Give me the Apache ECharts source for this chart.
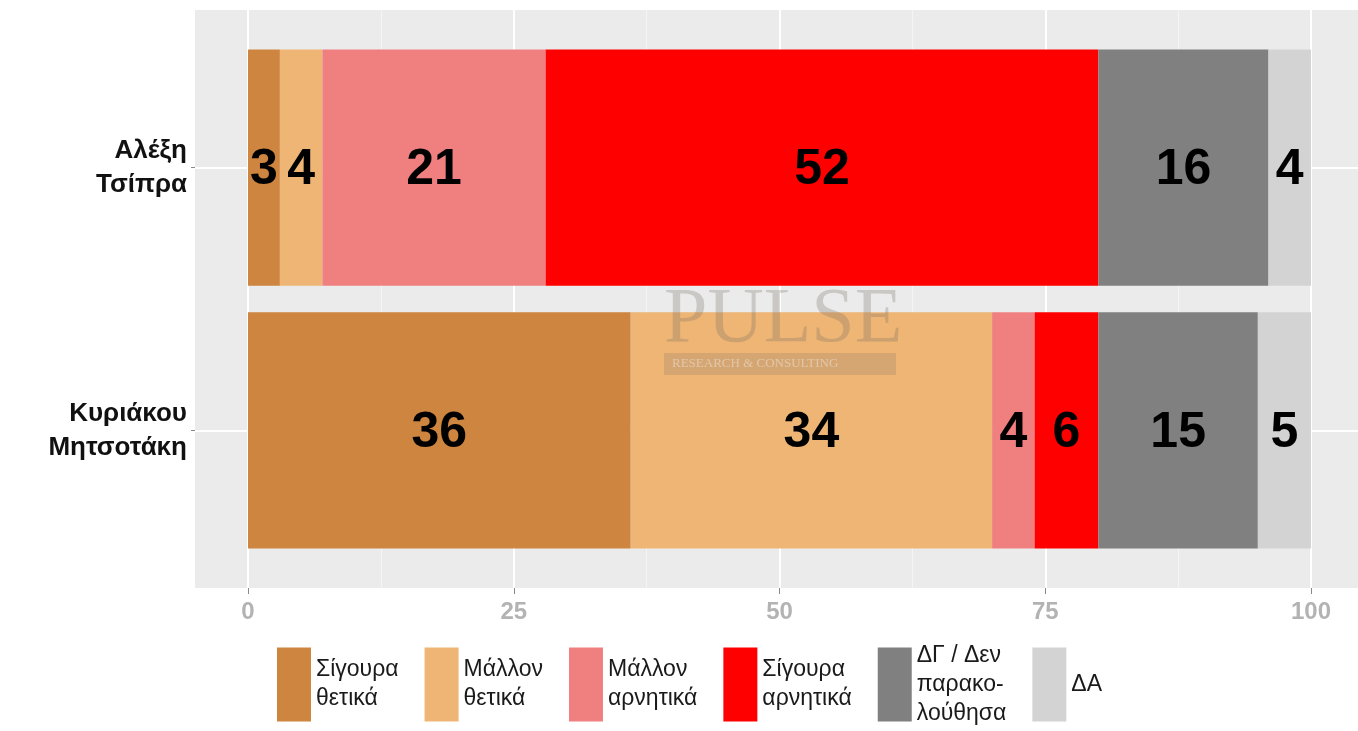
<!DOCTYPE html>
<html>
<head>
<meta charset="utf-8">
<script src="https://cdn.jsdelivr.net/npm/echarts@6/dist/echarts.min.js"></script>
<style>
  html, body { margin: 0; padding: 0; background: #ffffff; }
  #chart { width: 1358px; height: 731px; }
</style>
</head>
<body>
<div id="chart"></div>
<script>
  // πολιτικοί (άξονας y)
  var people = ['Αλέξη\nΤσίπρα', 'Κυριάκου\nΜητσοτάκη'];
  // κατηγορίες απάντησης
  var answers = ['Σίγουρα\nθετικά', 'Μάλλον\nθετικά', 'Μάλλον\nαρνητικά', 'Σίγουρα\nαρνητικά', 'ΔΓ / Δεν\nπαρακο-\nλούθησα', 'ΔΑ'];
  var colors = ['#CD853F', '#EEB574', '#F08080', '#FF0000', '#808080', '#D3D3D3'];
  // τιμές ανά κατηγορία: [Τσίπρα, Μητσοτάκη]
  var sigouraThetika = [3, 36];
  var mallonThetika = [4, 34];
  var mallonArnitika = [21, 4];
  var sigouraArnitika = [52, 6];
  var dgDen = [16, 15];
  var da = [4, 5];

  var values = [sigouraThetika, mallonThetika, mallonArnitika, sigouraArnitika, dgDen, da];

  var chart = echarts.init(document.getElementById('chart'));

  // σωρευτικά άκρα για κάθε τμήμα
  var cum = people.map(function () { return 0; });
  var series = values.map(function (vals, si) {
    var data = vals.map(function (v, pi) {
      var start = cum[pi];
      cum[pi] += v;
      return [start, cum[pi], pi + 1, v];
    });
    return {
      name: answers[si],
      type: 'custom',
      xAxisIndex: 1,
      yAxisIndex: 1,
      itemStyle: { color: colors[si] },
      encode: { x: [0, 1], y: 2 },
      data: data,
      renderItem: function (params, api) {
        var p0 = api.coord([api.value(0), api.value(2)]);
        var p1 = api.coord([api.value(1), api.value(2)]);
        var h = api.size([0, 0.9])[1];
        return {
          type: 'group',
          children: [{
            type: 'rect',
            shape: { x: p0[0], y: p0[1] - h / 2, width: p1[0] - p0[0], height: h },
            style: { fill: colors[si] }
          }, {
            type: 'text',
            x: (p0[0] + p1[0]) / 2,
            y: p0[1] + 3,
            style: {
              text: String(api.value(3)),
              fill: '#000000',
              font: 'bold 50px "Liberation Sans", Arial, sans-serif',
              align: 'center',
              verticalAlign: 'middle'
            }
          }]
        };
      }
    };
  });

  var option = {
    backgroundColor: '#ffffff',
    animation: false,
    grid: [
      { left: 195, right: 0, top: 10, bottom: 143, show: true, backgroundColor: '#EBEBEB', borderWidth: 0 },
      { left: 248, right: 47, top: 10, bottom: 143 }
    ],
    xAxis: [
      { gridIndex: 0, type: 'value', min: -5, max: 105, show: false },
      {
        gridIndex: 1, type: 'value', min: 0, max: 100, interval: 25,
        axisLine: { show: false, onZero: false },
        axisTick: { show: true, length: 6, lineStyle: { color: '#8a8a8a', width: 1 } },
        axisLabel: {
          margin: 12, color: '#B3B3B3', fontSize: 24, fontWeight: 'bold',
          fontFamily: '"Liberation Sans", Arial, sans-serif'
        },
        splitLine: { show: true, lineStyle: { color: '#ffffff', width: 2 } },
        minorTick: { show: false, splitNumber: 2 },
        minorSplitLine: { show: true, lineStyle: { color: '#F5F5F5', width: 1 } }
      }
    ],
    yAxis: [
      {
        gridIndex: 0, type: 'value', min: 0.4, max: 2.6, inverse: true,
        axisLine: { show: false, onZero: false },
        axisTick: { show: true, length: 4, customValues: [1, 2], lineStyle: { color: '#8a8a8a' } },
        axisLabel: {
          customValues: [1, 2],
          margin: 8,
          color: '#111111', fontSize: 26, fontWeight: 'bold', lineHeight: 34,
          fontFamily: '"Liberation Sans", Arial, sans-serif',
          align: 'right',
          formatter: function (v) { return people[Math.round(v) - 1] || ''; }
        },
        splitLine: { show: true, lineStyle: { color: '#ffffff', width: 2 } }
      },
      { gridIndex: 1, type: 'value', min: 0.4, max: 2.6, inverse: true, show: false }
    ],
    legend: {
      left: 272,
      top: 636,
      orient: 'horizontal',
      icon: 'rect',
      itemWidth: 34,
      itemHeight: 74,
      itemGap: 26,
      textStyle: {
        color: '#1a1a1a', fontSize: 23, lineHeight: 29,
        fontFamily: '"Liberation Sans", Arial, sans-serif'
      },
      data: answers
    },
    graphic: [
      {
        type: 'text', left: 664, top: 282, z: 10, silent: true,
        style: {
          text: 'PULSE', fill: 'rgba(120,110,100,0.28)',
          font: '78px "Liberation Serif", "DejaVu Serif", serif'
        }
      },
      {
        type: 'rect', left: 664, top: 353, z: 10, silent: true,
        shape: { width: 232, height: 22 },
        style: { fill: 'rgba(150,130,110,0.28)' }
      },
      {
        type: 'text', left: 672, top: 357, z: 11, silent: true,
        style: {
          text: 'RESEARCH & CONSULTING', fill: 'rgba(235,225,215,0.55)',
          font: '13px "Liberation Serif", serif'
        }
      }
    ],
    series: series
  };

  chart.setOption(option);
</script>
</body>
</html>
